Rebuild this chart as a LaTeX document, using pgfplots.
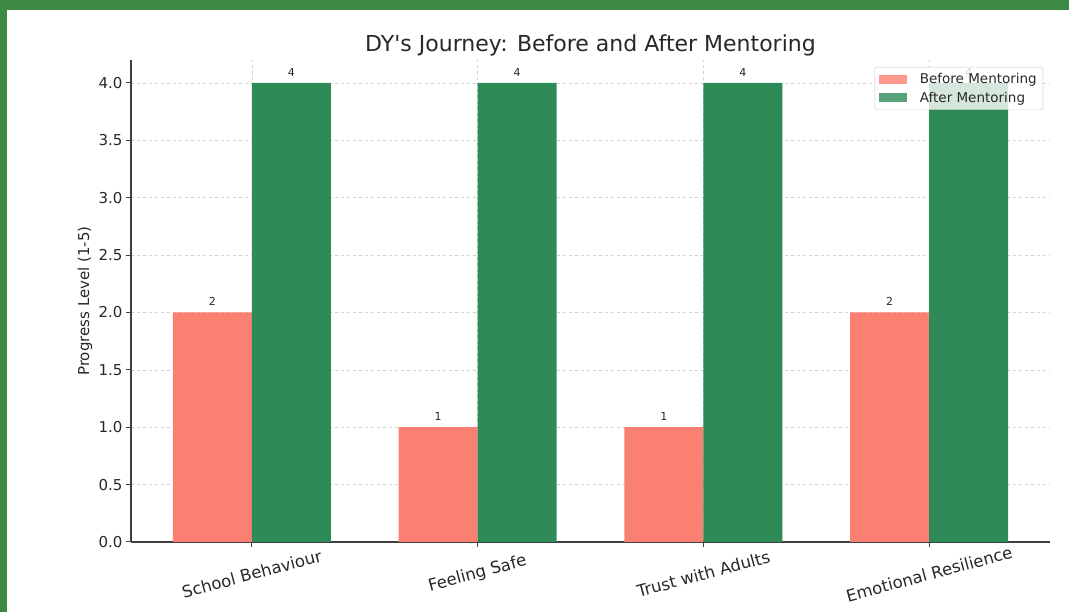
\documentclass[border=0pt]{standalone}
\usepackage{pgfplots}
\pgfplotsset{compat=1.18}
\usepackage{fontspec}
\setmainfont{DejaVu Sans}
\definecolor{framegreen}{RGB}{59,137,67}
\definecolor{salmonc}{RGB}{250,128,114}
\definecolor{seagreenc}{RGB}{46,139,87}
\definecolor{txt}{RGB}{40,40,40}
\begin{document}
\begin{tikzpicture}[x=1pt,y=1pt]
\fill[framegreen] (0,0) rectangle (1069,612);
\fill[white] (7,0) rectangle (1069,602);
\path[use as bounding box] (0,0) rectangle (1069,612);
\begin{axis}[
  at={(131pt,70pt)}, anchor=south west,
  scale only axis, width=919pt, height=482pt,
  xmin=-0.535, xmax=3.535, ymin=0, ymax=4.2,
  ybar=0pt, bar width=0.35,
  axis lines*=left,
  axis line style={line width=1.2pt, color=black!75},
  tick align=outside, major tick length=5pt,
  tick style={line width=1pt, color=black!75},
  xtick={0,1,2,3},
  xticklabels={School Behaviour, Feeling Safe, Trust with Adults, Emotional Resilience},
  ytick={0,0.5,1,1.5,2,2.5,3,3.5,4},
  yticklabel style={/pgf/number format/fixed, /pgf/number format/fixed zerofill, /pgf/number format/precision=1,
    /pgf/number format/assume math mode=true, font=\fontsize{15}{18}\selectfont, text=txt},
  xticklabel style={rotate=15, anchor=center, yshift=-26pt, xshift=-7pt, font=\fontsize{16.5}{19}\selectfont, text=txt},
  grid=major,
  major grid style={dashed, line width=0.6pt, color=black!18},
  ylabel={Progress Level (1-5)},
  ylabel style={at={(axis description cs:-0.05,0.5)}, anchor=center, font=\fontsize{15}{18}\selectfont, text=txt},
  title={DY\textquotesingle s Journey: Before and After Mentoring},
  title style={at={(axis description cs:0.5,1)}, anchor=base, yshift=2pt, font=\fontsize{22}{25}\selectfont, text=txt},
  nodes near coords={\pgfmathprintnumber[assume math mode=true]{\pgfplotspointmeta}},
  every node near coord/.append style={font=\fontsize{11}{13}\selectfont, text=txt, yshift=3pt},
  legend style={at={(axis description cs:1,1)}, anchor=north east, xshift=-7pt, yshift=-7pt,
    draw=black!20, rounded corners=2pt, fill=white, fill opacity=0.8, text opacity=1,
    font=\fontsize{13.5}{16}\selectfont, text=txt, row sep=3pt, inner sep=4pt,
    /tikz/every odd column/.append style={column sep=11pt}},
  legend cell align=left,
]
\addplot[fill=salmonc, draw=none,
  legend image code/.code={\fill[salmonc, sharp corners] (0pt,-4.5pt) rectangle (28pt,4.5pt);}]
  coordinates {(0,2) (1,1) (2,1) (3,2)};
\addlegendentry{Before Mentoring}
\addplot[fill=seagreenc, draw=none,
  legend image code/.code={\fill[seagreenc, sharp corners] (0pt,-4.5pt) rectangle (28pt,4.5pt);}]
  coordinates {(0,4) (1,4) (2,4) (3,4)};
\addlegendentry{After Mentoring}
\end{axis}
\end{tikzpicture}
\end{document}
